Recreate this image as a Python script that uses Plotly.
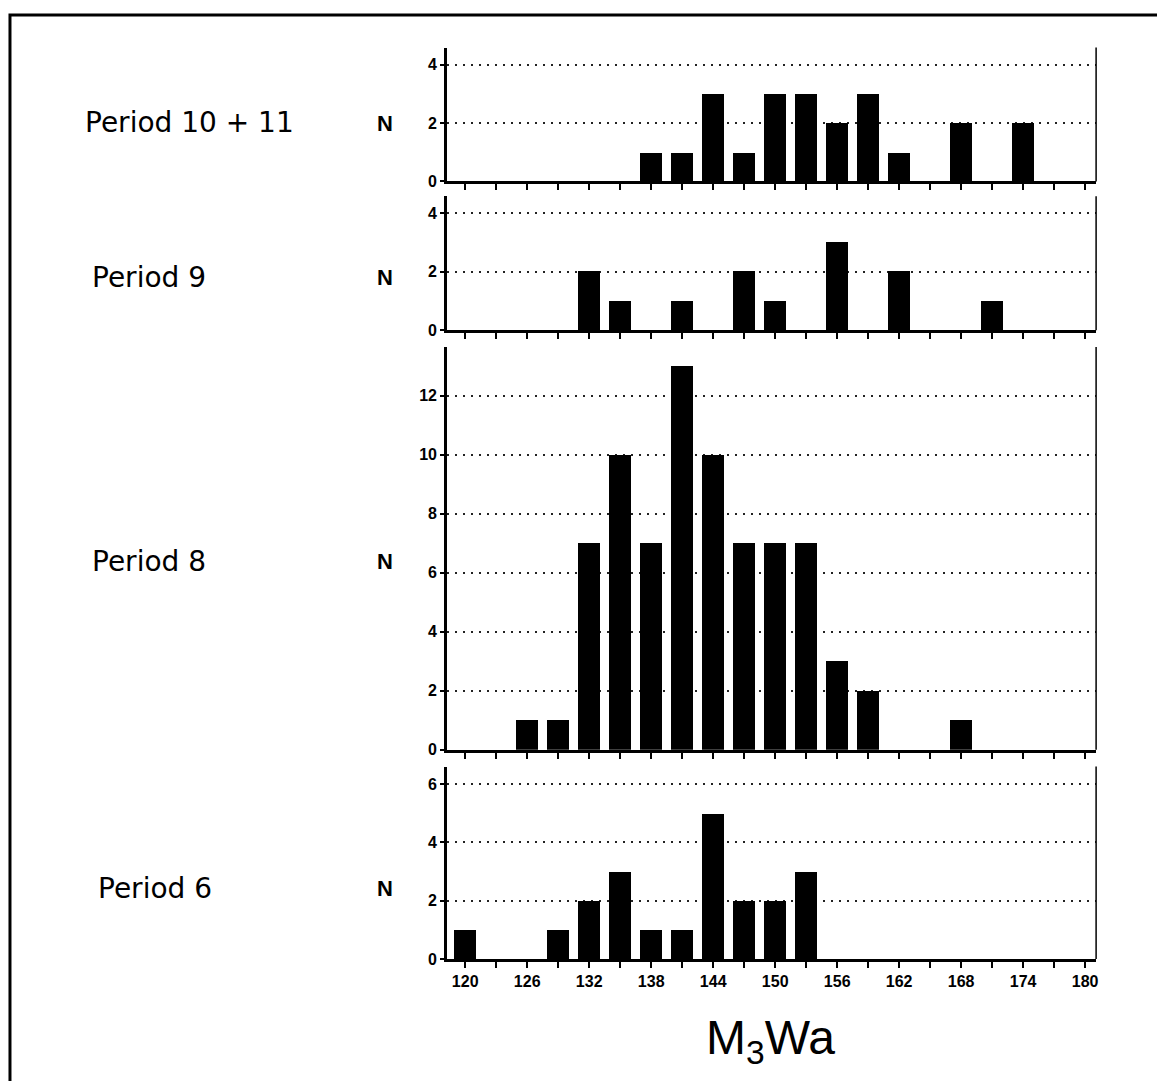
import plotly.graph_objects as go

# Bin centres (M3Wa, bins of width 3)
bins = list(range(120, 181, 3))

# Counts per period, aligned with bins 120,123,...,180
period_10_11 = [0, 0, 0, 0, 0, 0, 1, 1, 3, 1, 3, 3, 2, 3, 1, 0, 2, 0, 2, 0, 0]
period_9     = [0, 0, 0, 0, 2, 1, 0, 1, 0, 2, 1, 0, 3, 0, 2, 0, 0, 1, 0, 0, 0]
period_8     = [0, 0, 1, 1, 7, 10, 7, 13, 10, 7, 7, 7, 3, 2, 0, 0, 1, 0, 0, 0, 0]
period_6     = [1, 0, 0, 1, 2, 3, 1, 1, 5, 2, 2, 3, 0, 0, 0, 0, 0, 0, 0, 0, 0]

panel_names = ["Period 10 + 11", "Period 9", "Period 8", "Period 6"]
panel_counts = [period_10_11, period_9, period_8, period_6]
y_ticks = [[0, 2, 4], [0, 2, 4], [0, 2, 4, 6, 8, 10, 12], [0, 2, 4, 6]]
y_ranges = [[0, 4.58], [0, 4.58], [0, 13.65], [0, 6.6]]

x_label_ticks = [120, 126, 132, 138, 144, 150, 156, 162, 168, 174, 180]

W, H = 1157, 1090
# panel pixel extents (top, bottom)
panel_px = [(48, 183), (198, 333), (350, 756), (773, 967)]
label_pos = [(190, 124), (149, 280), (149, 566), (155, 896)]
n_pos = [125, 280, 566, 896]

FONT = "Liberation Sans"
LABEL_FONT = "DejaVu Sans"
x0, x1 = 448 / W, 1098 / W

fig = go.Figure()
shapes = []
annotations = []
for i, (name, counts) in enumerate(zip(panel_names, panel_counts)):
    k = "" if i == 0 else str(i + 1)
    fig.add_trace(go.Bar(
        x=bins, y=counts, width=2.15,
        marker=dict(color="black", line=dict(width=0)),
        xaxis="x" + k, yaxis="y" + k, showlegend=False,
    ))
    top, bot = panel_px[i]
    fig.update_layout(**{
        "xaxis" + k: dict(
            domain=[x0, x1], anchor="y" + k, range=[118.26, 181.06],
            tickmode="array", tickvals=x_label_ticks,
            showticklabels=(i == 3), ticks="outside", ticklen=6, tickwidth=1.5,
            tickcolor="black",
            minor=dict(tick0=120, dtick=3, ticks="outside", ticklen=6,
                       tickwidth=1.5, tickcolor="black", showgrid=False),
            showline=True, linecolor="black", linewidth=3,
            showgrid=False, zeroline=False,
            tickfont=dict(family=FONT, size=16, color="black", weight="bold"),
        ),
        "yaxis" + k: dict(
            domain=[1 - bot / H, 1 - top / H], anchor="x" + k, range=y_ranges[i],
            tickvals=y_ticks[i], ticks="outside", ticklen=4, tickwidth=1.5,
            tickcolor="black", showline=True, linecolor="black", linewidth=3,
            showgrid=True, gridcolor="#222", gridwidth=2, griddash="2px,6px",
            zeroline=False,
            tickfont=dict(family=FONT, size=16, color="black", weight="bold"),
        ),
    })
    # right border line of panel
    shapes.append(dict(type="line", xref="x" + k + " domain", yref="y" + k + " domain",
                       x0=1, x1=1, y0=0, y1=1.0, line=dict(color="black", width=1.5)))
    lx, ly = label_pos[i]
    annotations.append(dict(text=name, x=lx / W, y=1 - ly / H, xref="paper", yref="paper",
                            showarrow=False, xanchor="center", yanchor="middle",
                            font=dict(family=LABEL_FONT, size=28, color="black")))
    annotations.append(dict(text="<b>N</b>", x=386 / W, y=1 - n_pos[i] / H, xref="paper",
                            yref="paper", showarrow=False, xanchor="center", yanchor="middle",
                            font=dict(family=FONT, size=22, color="black")))

annotations.append(dict(text="M<sub>3</sub>Wa", x=772 / W, y=1 - 1050 / H, xref="paper",
                        yref="paper", showarrow=False, xanchor="center", yanchor="middle",
                        font=dict(family=FONT, size=48, color="black")))

# outer frame (left and top edges)
shapes.append(dict(type="path", xref="paper", yref="paper",
                   path=f"M {10/W} 0 L {10/W} {1-15/H} L 1.01 {1-15/H}",
                   line=dict(color="black", width=3)))

fig.update_layout(
    width=W, height=H, margin=dict(l=0, r=0, t=0, b=0),
    paper_bgcolor="white", plot_bgcolor="white",
    bargap=0, shapes=shapes, annotations=annotations,
)

fig.write_html("out.html")
